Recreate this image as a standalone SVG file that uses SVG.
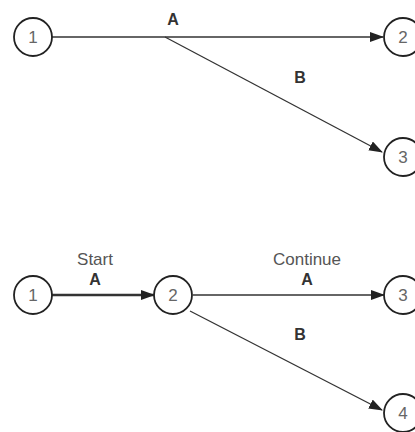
<svg xmlns="http://www.w3.org/2000/svg" width="415" height="432" viewBox="0 0 415 432">
<style>
.node circle{fill:#fff;stroke:#222;stroke-width:1.8}
.node text{font-family:"Liberation Sans",Arial,sans-serif;font-size:17px;fill:#666;text-anchor:middle}
.lbl{font-family:"Liberation Sans",Arial,sans-serif;font-size:17px;fill:#555;text-anchor:middle}
.act{font-weight:bold;font-size:16px;fill:#333}
.edge{stroke:#333;stroke-width:1.3;fill:none;marker-end:url(#arr)}
.thick{stroke-width:2.6}
</style>
<defs>
<marker id="arr" markerUnits="userSpaceOnUse" markerWidth="14" markerHeight="10" refX="13" refY="5" orient="auto">
<path d="M0,0 L14,5 L0,10 Z" fill="#222"/>
</marker>
</defs>
<rect width="415" height="432" fill="#fff"/>
<g id="connectors">
<line class="edge" x1="52" y1="37" x2="383" y2="37"/>
<line class="edge" x1="165" y1="37" x2="382" y2="152"/>
<line class="edge thick" x1="52" y1="295" x2="154" y2="295"/>
<line class="edge" x1="193" y1="295" x2="384" y2="295"/>
<line class="edge" x1="190" y1="311" x2="382" y2="410"/>
</g>
<g id="labels">
<text class="lbl act" x="173" y="25">A</text>
<text class="lbl act" x="300" y="83">B</text>
<text class="lbl" x="95" y="265">Start</text>
<text class="lbl act" x="95" y="285">A</text>
<text class="lbl" x="307" y="265">Continue</text>
<text class="lbl act" x="307" y="285">A</text>
<text class="lbl act" x="300" y="340">B</text>
</g>
<g id="t1" class="node"><circle cx="33" cy="37" r="19"/><text x="33" y="43">1</text></g>
<g id="t2" class="node"><circle cx="403" cy="37" r="19"/><text x="403" y="43">2</text></g>
<g id="t3" class="node"><circle cx="403" cy="157" r="19"/><text x="403" y="163">3</text></g>
<g id="b1" class="node"><circle cx="33" cy="295" r="19"/><text x="33" y="301">1</text></g>
<g id="b2" class="node"><circle cx="173" cy="295" r="19"/><text x="173" y="301">2</text></g>
<g id="b3" class="node"><circle cx="403" cy="295" r="19"/><text x="403" y="301">3</text></g>
<g id="b4" class="node"><circle cx="403" cy="413" r="19"/><text x="403" y="419">4</text></g>
</svg>
